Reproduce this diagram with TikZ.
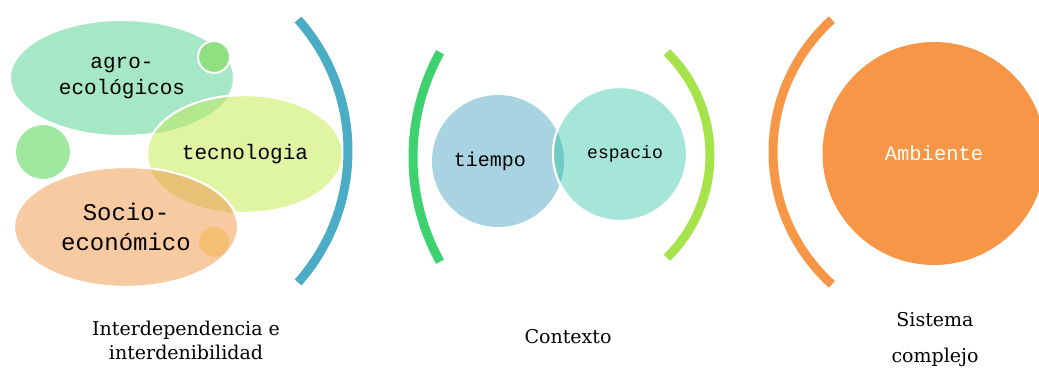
\documentclass[tikz,border=0pt]{standalone}
\usepackage{fontspec}
\usepackage{tikz}
\usetikzlibrary{shapes.geometric}
\newfontfamily\shapefont{Liberation Mono}
\newfontfamily\labelfont{DejaVu Serif}
\definecolor{agroGreen}{HTML}{A6E7C6}
\definecolor{dotGreen}{HTML}{8FE081}
\definecolor{sideGreen}{HTML}{9FE89F}
\definecolor{tecnoLime}{HTML}{E0F5A2}
\definecolor{agroTecno}{HTML}{B4E88E}
\definecolor{socioPeach}{HTML}{F8CAA2}
\definecolor{socioTecno}{HTML}{E8C277}
\definecolor{dotPeach}{HTML}{F4BF72}
\definecolor{arcBlue}{HTML}{4BACC6}
\definecolor{arcGreen}{HTML}{3DD16F}
\definecolor{arcLime}{HTML}{A6E24A}
\definecolor{tiempoBlue}{HTML}{A8D4E2}
\definecolor{espacioTeal}{HTML}{A6E6D8}
\definecolor{mixTeal}{HTML}{6FCCC4}
\definecolor{ambOrange}{HTML}{F79646}

\begin{document}
\begin{tikzpicture}[x=1pt,y=1pt]
        \tikzstyle{blob}=[
            ellipse,
            draw=white,
            line width=2pt,
            inner sep=0pt,
            text=black,
            align=center,
            font=\shapefont\fontsize{21}{26}\selectfont
        ]
        \tikzstyle{dot}=[
            circle,
            draw=white,
            line width=2pt,
            inner sep=0pt
        ]
        \tikzstyle{bracket}=[line width=9pt]
        \tikzstyle{caption}=[
            align=center,
            text=black,
            font=\labelfont\fontsize{19}{24}\selectfont
        ]

        \useasboundingbox (0,0) rectangle (1039,367);

        % left group
        \node[blob, fill=agroGreen, minimum width=224, minimum height=116] (agro) at (122,289){agro-\\ecológicos};
        \node[dot, fill=dotGreen, minimum size=32] (agrodot) at (214,310){};
        \node[dot, fill=sideGreen, minimum size=56] (sidedot) at (43,215){};
        \node[blob, fill=tecnoLime, minimum width=196, minimum height=118] (tecno) at (245,213){tecnologia};
        \begin{scope}
            \clip (agro.center) ellipse [x radius=112, y radius=58];
            \fill[agroTecno] (tecno.center) ellipse [x radius=98, y radius=59];
        \end{scope}
        \draw[white, line width=2pt] (tecno.center) ellipse [x radius=98, y radius=59];
        \node[blob, fill=socioPeach, minimum width=224, minimum height=120, font=\shapefont\fontsize{24}{30}\selectfont] (socio) at (126,140){Socio-\\económico};
        \begin{scope}
            \clip (tecno.center) ellipse [x radius=98, y radius=59];
            \fill[socioTecno] (socio.center) ellipse [x radius=112, y radius=60];
        \end{scope}
        \draw[white, line width=2pt] (socio.center) ellipse [x radius=112, y radius=60];
        \node[circle, fill=dotPeach, inner sep=0pt, minimum size=30] (sociodot) at (214,125){};
        \draw[bracket, arcBlue] (150,216) ++(41.6:198) arc[start angle=41.6, end angle=-41.6, radius=198];

        % middle group
        \draw[bracket, arcGreen] (629,210) ++(151:216) arc[start angle=151, end angle=209, radius=216];
        \draw[bracket, arcLime] (566,212) ++(45.5:144) arc[start angle=45.5, end angle=-45.5, radius=144];
        \node[blob, circle, fill=tiempoBlue, draw=none, minimum size=132, font=\shapefont\fontsize{20}{22}\selectfont] (tiempo) at (498,206){tiempo\hspace*{16pt}};
        \node[blob, circle, fill=espacioTeal, minimum size=134, font=\shapefont\fontsize{18}{22}\selectfont] (espacio) at (620,213){\hspace*{10pt}espacio};
        \begin{scope}
            \clip (tiempo.center) circle [radius=66];
            \fill[mixTeal] (espacio.center) circle [radius=67];
        \end{scope}
        \draw[white, line width=2pt] (espacio.center) circle [radius=67];

        % right group
        \draw[bracket, ambOrange] (951,215) ++(132:178) arc[start angle=132, end angle=228, radius=178];
        \node[circle, fill=ambOrange, inner sep=0pt, minimum size=223, text=white, font=\shapefont\fontsize{20.5}{22}\selectfont] (amb) at (934,213.5){Ambiente};

        % captions
        \node[caption] (interdep) at (186,27){Interdependencia e\\interdenibilidad};
        \node[caption] (contexto) at (568,30){Contexto};
        \node[caption, font=\labelfont\fontsize{19}{36}\selectfont] (sistema) at (935,27){Sistema\\complejo};
\end{tikzpicture}
\end{document}
